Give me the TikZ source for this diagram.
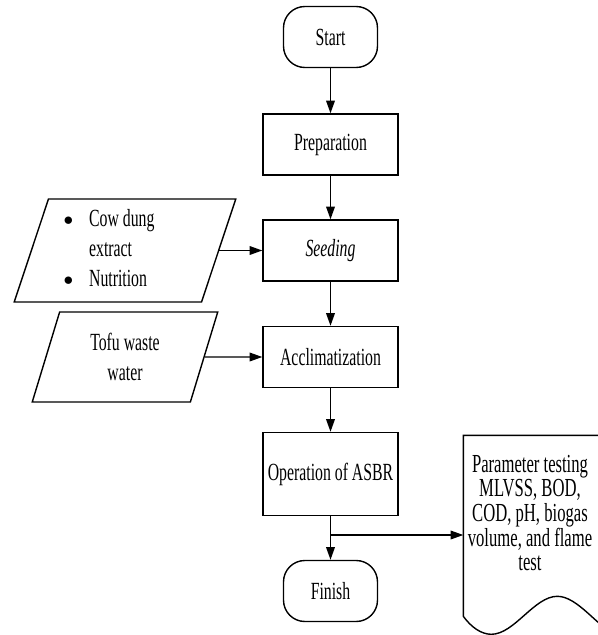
\documentclass[tikz,border=0pt]{standalone}
\usepackage{fontspec}
\setmainfont{Liberation Serif}[FakeStretch=0.64]
\usepackage{tikz}
\usetikzlibrary{arrows.meta, shapes.geometric}

\newcommand{\dotitem}{\raisebox{0.5pt}{\fontsize{14}{14}\selectfont$\bullet$}}

\begin{document}
\begin{tikzpicture}[x=0.75pt, y=-0.75pt, line width=1.05pt,
    every node/.style={font=\fontsize{18.5}{19.5}\selectfont},
    process/.style={rectangle, draw, minimum width=101.25pt, minimum height=45.75pt, inner sep=0pt},
    terminal/.style={rectangle, draw, rounded corners=16pt, minimum width=70.5pt, minimum height=45.75pt, inner sep=0pt},
    inputbox/.style={trapezium, draw, trapezium left angle=73, trapezium right angle=107, trapezium stretches=true, inner sep=0pt, font=\fontsize{18.5}{22.5}\selectfont},
    arr/.style={-{Triangle[length=9.5pt, width=6.5pt]}}]
            \useasboundingbox (0,0) rectangle (598,635);

            \node[terminal] at (330.5, 37)   (start) {Start};
            \node[process] at (330.5, 144.5)   (prep) {Preparation};
            \node[process] at (330.5, 250.5)   (seed) {\textit{Seeding}};
            \node[process] at (330.5, 357)   (accl) {Acclimatization};
            \node[process, minimum height=62.25pt] at (330.5, 474)   (opr) {Operation of ASBR};
            \node[terminal] at (330.5, 591)   (fin) {Finish};

            \node[inputbox, minimum width=166.5pt, minimum height=77.25pt] at (125, 250.5)   (cow) {\begin{tabular}{@{}l@{\hspace{12pt}}l@{\hspace{24pt}}}\dotitem & Cow dung\\ & extract\\ \dotitem & Nutrition\end{tabular}};
            \node[inputbox, minimum width=139.5pt, minimum height=67.5pt, align=center] at (125, 357)   (tofu) {Tofu waste\\water};

            % document shape with wavy bottom
            \node[minimum width=111pt, minimum height=148.5pt, inner sep=0pt] at (538, 535)   (doc) {};
            \node[align=center, font=\fontsize{19.5}{18.4}\selectfont] at ([shift={(-8,-22)}]doc.center)   (doctxt) {Parameter testing\\MLVSS, BOD,\\COD, pH, biogas\\volume, and flame\\test};
            \draw (doc.north east) -- (doc.north west) -- ++(0,181)
                .. controls +(8,11) and +(-10,0) .. ++(28,18)
                .. controls +(23,0) and +(-23,0) .. ++(66,-38)
                .. controls +(20,0) and +(-14,-5) .. ++(54,35) -- cycle;

            \draw[arr] (start) -- (prep);
            \draw[arr] (prep) -- (seed);
            \draw[arr] (seed) -- (accl);
            \draw[arr] (accl) -- (opr);
            \draw[arr] (opr) -- (fin);
            \draw[arr] (cow) -- (seed);
            \draw[arr] (tofu) -- (accl);
            \coordinate (split) at (opr.south |- doc.west);
            \draw[arr] (split) -- (doc.west);
        \end{tikzpicture}
\end{document}
